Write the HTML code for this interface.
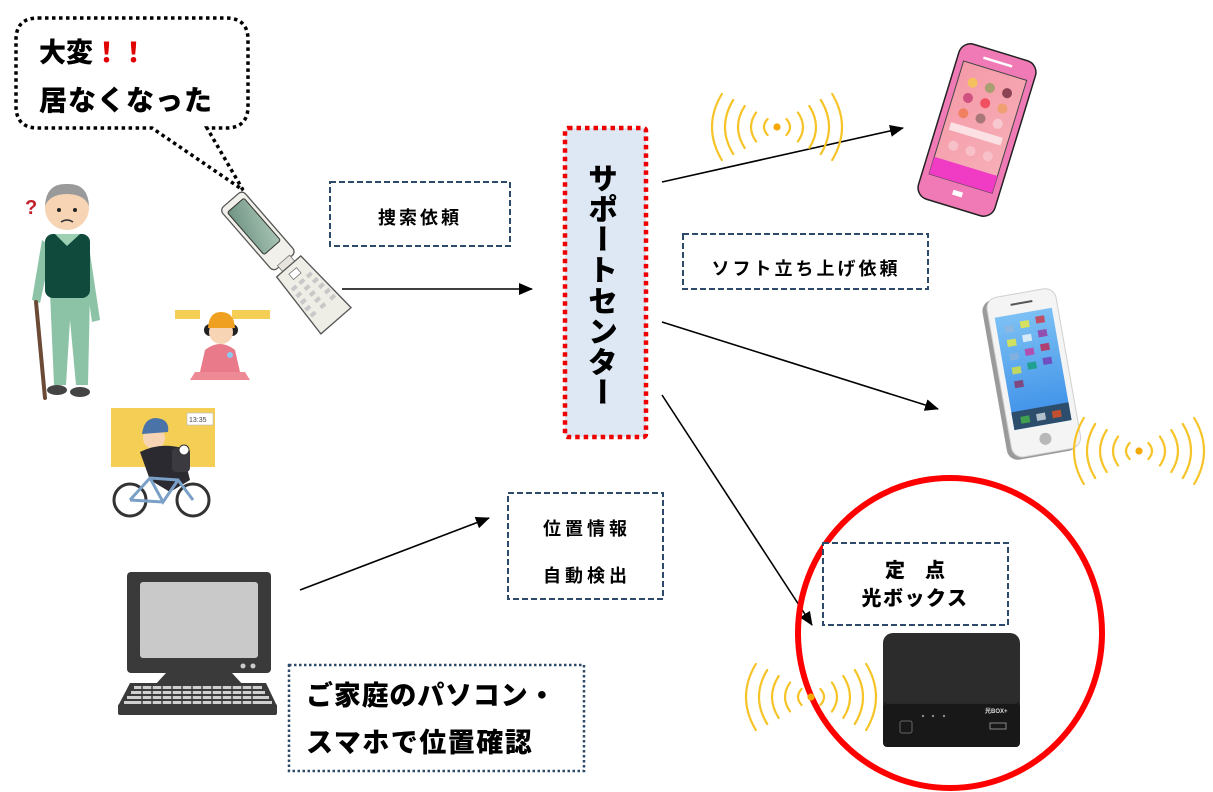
<!DOCTYPE html>
<html><head><meta charset="utf-8">
<style>
html,body{margin:0;padding:0;background:#fff;}
#wrap{position:relative;width:1213px;height:792px;overflow:hidden;background:#fff;}
svg{position:absolute;left:0;top:0;}
.jp{font-family:"Liberation Sans","Noto Sans CJK JP",sans-serif;}
#sc{position:absolute;left:587px;top:163px;writing-mode:vertical-rl;text-orientation:upright;font-family:"Noto Sans CJK JP",sans-serif;font-weight:900;font-size:30px;letter-spacing:0.6px;line-height:32px;color:#000;}
</style></head>
<body><div id="wrap">
<svg width="1213" height="792" viewBox="0 0 1213 792" xmlns="http://www.w3.org/2000/svg">
<defs>
<marker id="ah" markerWidth="14" markerHeight="12" refX="13" refY="6" orient="auto" markerUnits="userSpaceOnUse">
<path d="M0,0 L14,6 L0,12 Z" fill="#000"/>
</marker>
<linearGradient id="bl" x1="0" y1="0" x2="0" y2="1"><stop offset="0" stop-color="#7cc0f4"/><stop offset="1" stop-color="#3a8ee8"/></linearGradient>
<linearGradient id="pk" x1="0" y1="0" x2="1" y2="1"><stop offset="0" stop-color="#f59aa8"/><stop offset="1" stop-color="#f7b0b8"/></linearGradient>
<linearGradient id="gs" x1="0" y1="0" x2="1" y2="1"><stop offset="0" stop-color="#6f9484"/><stop offset="1" stop-color="#a8c4b4"/></linearGradient>
<g id="sig" fill="none" stroke="#f6c428" stroke-width="2.2" stroke-linecap="round">
<path d="M-9.4,-8 Q-16.6,0 -9.4,8 M9.4,-8 Q16.6,0 9.4,8"/>
<path d="M-20.9,-14.5 Q-31.1,0 -20.9,14.5 M20.9,-14.5 Q31.1,0 20.9,14.5"/>
<path d="M-32.3,-21 Q-45.7,0 -32.3,21 M32.3,-21 Q45.7,0 32.3,21"/>
<path d="M-43.8,-27 Q-60.2,0 -43.8,27 M43.8,-27 Q60.2,0 43.8,27"/>
<path d="M-55.2,-33 Q-74.8,0 -55.2,33 M55.2,-33 Q74.8,0 55.2,33"/>
<circle cx="0" cy="0" r="3.6" fill="#f5a800" stroke="none"/>
</g>
</defs>

<!-- speech bubble -->
<path d="M38,18 H226 Q248,18 248,40 V106 Q248,128 226,128 H207 L243,190 L152,128 H38 Q16,128 16,106 V40 Q16,18 38,18 Z" fill="#fff" stroke="#000" stroke-width="3.5" stroke-dasharray="3.5 3.5"/>
<text x="39" y="62" class="jp" font-size="27" font-weight="900" fill="#000">大変<tspan fill="#e00000">！！</tspan></text>
<text x="39" y="110" class="jp" font-size="28" font-weight="900" fill="#000" letter-spacing="1">居なくなった</text>

<!-- old man -->
<text x="25" y="214" font-family="Liberation Sans,sans-serif" font-weight="bold" font-size="20" fill="#c0202a">?</text>
<path d="M42,240 L32,300 L40,303 L52,248 Z" fill="#8cc3a6"/>
<path d="M88,240 L100,320 L92,322 L82,250 Z" fill="#8cc3a6"/>
<path d="M50,292 L90,292 L88,385 L76,385 L70,320 L66,385 L54,385 Z" fill="#8cc3a6"/>
<rect x="45" y="234" width="45" height="64" rx="8" fill="#0f4a3c"/>
<path d="M55,234 L80,234 L67,246 Z" fill="#9dd0b3"/>
<circle cx="67" cy="208" r="22" fill="#f6d4b4"/>
<path d="M45,206 Q46,183 67,184 Q88,183 89,206 Q84,194 67,194 Q50,194 45,206 Z" fill="#9a9a9a"/>
<circle cx="59" cy="210" r="2" fill="#222"/><circle cx="75" cy="210" r="2" fill="#222"/>
<path d="M61,222 Q67,218 73,222" stroke="#333" stroke-width="1.5" fill="none"/>
<ellipse cx="57" cy="390" rx="10" ry="5" fill="#444"/>
<ellipse cx="80" cy="392" rx="10" ry="5" fill="#444"/>
<line x1="36" y1="302" x2="45" y2="398" stroke="#6b4a36" stroke-width="4" stroke-linecap="round"/>

<!-- flip phone -->
<g transform="translate(231,200) rotate(-41)">
<rect x="-15" y="0" width="30" height="82" rx="5" fill="#f2f0ea" stroke="#555" stroke-width="1.3"/>
<rect x="-11" y="7" width="22" height="56" rx="2" fill="url(#gs)" stroke="#333" stroke-width="1"/>
<rect x="-8" y="80" width="16" height="10" fill="#e6e4dc" stroke="#777" stroke-width="0.8"/>
<path d="M-16,88 L16,88 L20,160 L-20,160 Z" fill="#eeede6" stroke="#555" stroke-width="1.3"/>
<rect x="-5" y="94" width="10" height="7" fill="#fff" stroke="#777" stroke-width="0.8"/>
<g fill="#c8c8c8">
<rect x="-13" y="106" width="6" height="4"/><rect x="-3" y="106" width="6" height="4"/><rect x="7" y="106" width="6" height="4"/>
<rect x="-14" y="114" width="6" height="4"/><rect x="-3" y="114" width="6" height="4"/><rect x="8" y="114" width="6" height="4"/>
<rect x="-15" y="122" width="6" height="4"/><rect x="-3" y="122" width="6" height="4"/><rect x="9" y="122" width="6" height="4"/>
<rect x="-16" y="130" width="6" height="4"/><rect x="-3" y="130" width="6" height="4"/><rect x="10" y="130" width="6" height="4"/>
<rect x="-16" y="138" width="6" height="4"/><rect x="-3" y="138" width="6" height="4"/><rect x="10" y="138" width="6" height="4"/>
</g>
</g>

<!-- girl -->
<rect x="175" y="310" width="25" height="9" fill="#f5cf55"/>
<rect x="232" y="310" width="38" height="9" fill="#f5cf55"/>
<path d="M205,350 Q220,338 235,350 L240,372 L200,372 Z" fill="#e87a8a"/>
<path d="M195,372 L245,372 L250,380 L190,380 Z" fill="#ee8a96"/>
<circle cx="210" cy="330" r="6" fill="#222"/><circle cx="232" cy="330" r="6" fill="#222"/>
<circle cx="221" cy="332" r="12" fill="#f6d4b4"/>
<path d="M208,328 Q209,312 221,312 Q234,312 235,328 Z" fill="#f0a020"/>
<circle cx="230" cy="355" r="3" fill="#8ac8f0"/>

<!-- bike boy -->
<rect x="111" y="408" width="104" height="59" fill="#f5cf55"/>
<rect x="187" y="413" width="26" height="12" fill="#fff" stroke="#bbb" stroke-width="0.6"/>
<text x="189" y="422" font-family="Liberation Sans,sans-serif" font-size="7" fill="#444">13:35</text>
<circle cx="154" cy="438" r="11" fill="#f6d4b4"/>
<path d="M142,434 Q144,418 156,418 Q170,419 168,432 Z" fill="#4a74a8"/>
<path d="M140,452 Q160,442 182,448 L190,480 L170,492 L150,480 Z" fill="#2a2a30"/>
<rect x="172" y="448" width="18" height="24" rx="4" fill="#3a3a40"/>
<circle cx="184" cy="450" r="5" fill="#fff" stroke="#333" stroke-width="1"/>
<circle cx="130" cy="500" r="16" fill="none" stroke="#333" stroke-width="3"/>
<circle cx="193" cy="500" r="16" fill="none" stroke="#333" stroke-width="3"/>
<path d="M130,500 L150,478 L178,480 L193,500 M150,478 L163,502 L178,480 M163,502 L130,500" fill="none" stroke="#7aa0c8" stroke-width="3"/>

<!-- arrows -->
<g stroke="#000" stroke-width="1.6" fill="none" marker-end="url(#ah)">
<line x1="342" y1="289" x2="532" y2="289"/>
<line x1="662" y1="182" x2="903" y2="128"/>
<line x1="662" y1="322" x2="938" y2="409"/>
<line x1="662" y1="395" x2="812" y2="625"/>
<line x1="300" y1="590" x2="489" y2="518"/>
</g>

<!-- labels -->
<rect x="330" y="182" width="180" height="64" fill="#fff" stroke="#2e4a6b" stroke-width="2" stroke-dasharray="6 3"/>
<text x="420" y="224" text-anchor="middle" class="jp" font-size="18" font-weight="bold" letter-spacing="3">捜索依頼</text>

<rect x="683" y="234" width="245" height="55" fill="#fff" stroke="#2e4a6b" stroke-width="2" stroke-dasharray="6 3"/>
<text x="806" y="275" text-anchor="middle" class="jp" font-size="18" font-weight="bold" letter-spacing="3">ソフト立ち上げ依頼</text>

<rect x="508" y="493" width="155" height="106" fill="#fff" stroke="#2e4a6b" stroke-width="2" stroke-dasharray="6 3"/>
<text x="587" y="535" text-anchor="middle" class="jp" font-size="18" font-weight="bold" letter-spacing="4">位置情報</text>
<text x="587" y="582" text-anchor="middle" class="jp" font-size="18" font-weight="bold" letter-spacing="4">自動検出</text>

<!-- support center box -->
<rect x="565" y="128" width="81" height="309" rx="3" fill="#dde8f4" stroke="#ee0000" stroke-width="4.5" stroke-dasharray="4.5 4"/>

<!-- pink phone -->
<g transform="translate(977,130) rotate(17)">
<rect x="-40" y="-81" width="80" height="162" rx="12" fill="#f07ab5" stroke="#222" stroke-width="1.5"/>
<line x1="-15" y1="-71" x2="15" y2="-71" stroke="#fff" stroke-width="2.5"/>
<rect x="-33" y="-62" width="66" height="118" fill="url(#pk)" stroke="#444" stroke-width="1"/>
<rect x="-33" y="38" width="66" height="18" fill="#f03cc4"/>
<circle cx="-18" cy="-44" r="5" fill="#f5c060"/><circle cx="0" cy="-44" r="5" fill="#a8a070"/><circle cx="18" cy="-44" r="5" fill="#8a4454"/>
<circle cx="-18" cy="-28" r="5" fill="#d05080"/><circle cx="0" cy="-28" r="5" fill="#f05060"/><circle cx="18" cy="-28" r="5" fill="#f0a070"/>
<circle cx="-18" cy="-12" r="5" fill="#f08060"/><circle cx="0" cy="-12" r="5" fill="#a87878"/><circle cx="18" cy="-12" r="5" fill="#f8c8d0"/>
<rect x="-27" y="0" width="54" height="8" fill="#fbe0e4"/>
<circle cx="-18" cy="22" r="5" fill="#f8c0c8"/><circle cx="0" cy="22" r="5" fill="#f8c0c8"/><circle cx="18" cy="22" r="5" fill="#f8c0c8"/>
<rect x="-5" y="64" width="10" height="5" fill="#fff"/>
</g>
<use href="#sig" transform="translate(777,127)"/>

<!-- blue phone -->
<g transform="translate(1033,374) rotate(-10)">
<rect x="-39" y="-80" width="72" height="162" rx="11" fill="#9a9a9a"/>
<rect x="-34" y="-82" width="70" height="162" rx="11" fill="#f4f4f4" stroke="#d0d0d0" stroke-width="1"/>
<line x1="-10" y1="-72" x2="12" y2="-72" stroke="#555" stroke-width="2"/>
<rect x="-28" y="-62" width="58" height="114" fill="url(#bl)"/>
<rect x="-28" y="34" width="58" height="18" fill="#2c4d6b"/>
<g>
<rect x="-20" y="-52" width="9" height="7" fill="#8ab8e0"/><rect x="-4" y="-54" width="9" height="7" fill="#d8e060"/><rect x="12" y="-56" width="9" height="7" fill="#c05068"/>
<rect x="-20" y="-38" width="9" height="7" fill="#d0e060"/><rect x="-4" y="-40" width="9" height="7" fill="#d8eaf8"/><rect x="12" y="-42" width="9" height="7" fill="#9050b0"/>
<rect x="-20" y="-24" width="9" height="7" fill="#80b0e0"/><rect x="-4" y="-26" width="9" height="7" fill="#b050b0"/><rect x="12" y="-28" width="9" height="7" fill="#b04070"/>
<rect x="-20" y="-10" width="9" height="7" fill="#c0d860"/><rect x="-4" y="-12" width="9" height="7" fill="#20a090"/><rect x="12" y="-14" width="9" height="7" fill="#7050c0"/>
<rect x="-20" y="4" width="9" height="7" fill="#804880"/>
<rect x="-20" y="40" width="9" height="7" fill="#40a050"/><rect x="-4" y="40" width="9" height="7" fill="#b0c0cc"/><rect x="12" y="40" width="9" height="7" fill="#c05030"/>
</g>
<circle cx="1" cy="66" r="6" fill="#b8b8b8"/>
</g>
<use href="#sig" transform="translate(1139,451)"/>

<!-- red circle -->
<ellipse cx="950" cy="633" rx="152" ry="155" fill="none" stroke="#ff0000" stroke-width="6"/>

<!-- device -->
<rect x="883" y="633" width="137" height="80" rx="10" fill="#2c2c2c"/>
<rect x="883" y="702" width="137" height="45" rx="4" fill="#181818"/>
<line x1="886" y1="703" x2="1017" y2="703" stroke="#3a3a3a" stroke-width="1"/>
<rect x="900" y="721" width="12" height="12" rx="2" fill="none" stroke="#666" stroke-width="1"/>
<rect x="990" y="723" width="16" height="6" fill="none" stroke="#888" stroke-width="1"/>
<text x="985" y="713" font-family="Liberation Sans,sans-serif" font-size="6" font-weight="bold" fill="#ddd">光BOX+</text>
<circle cx="923" cy="716" r="1.2" fill="#888"/><circle cx="933" cy="716" r="1.2" fill="#888"/><circle cx="944" cy="716" r="1.2" fill="#888"/>
<use href="#sig" transform="translate(811,697)"/>

<rect x="823" y="543" width="185" height="82" fill="#fff" stroke="#2e4a6b" stroke-width="2" stroke-dasharray="6 3"/>
<text x="915" y="577" text-anchor="middle" class="jp" font-size="20" font-weight="900" xml:space="preserve">定　点</text>
<text x="915" y="605" text-anchor="middle" class="jp" font-size="20" font-weight="900" letter-spacing="1.5">光ボックス</text>

<!-- computer -->
<rect x="127" y="572" width="144" height="101" rx="4" fill="#3a3a3a"/>
<rect x="140" y="582" width="118" height="76" rx="3" fill="#c9c9c9"/>
<circle cx="243" cy="666" r="2.5" fill="#ccc"/><circle cx="253" cy="666" r="2.5" fill="#ccc"/>
<path d="M166,673 L232,673 L244,686 L154,686 Z" fill="#3a3a3a"/>
<path d="M130,683 L266,683 L277,706 L118,706 Z" fill="#3a3a3a"/>
<rect x="118" y="704" width="159" height="11" rx="2" fill="#3a3a3a"/>
<g fill="#cfcfcf">
<rect x="134" y="686" width="128" height="3"/>
<rect x="131" y="691" width="134" height="3"/>
<rect x="127" y="696" width="142" height="3"/>
<rect x="124" y="701" width="148" height="3"/>
</g>
<g stroke="#3a3a3a" stroke-width="1.4">
<path d="M142,685 V705 M152,685 V705 M162,685 V705 M172,685 V705 M182,685 V705 M192,685 V705 M202,685 V705 M212,685 V705 M222,685 V705 M232,685 V705 M242,685 V705 M252,685 V705"/>
</g>

<!-- bottom label -->
<rect x="289" y="665" width="295" height="106" fill="#fff" stroke="#2e4a6b" stroke-width="2.5" stroke-dasharray="2.5 2.5"/>
<text x="306" y="705" class="jp" font-size="27" font-weight="900" letter-spacing="0.8">ご家庭のパソコン・</text>
<text x="306" y="752" class="jp" font-size="27" font-weight="900" letter-spacing="1.5">スマホで位置確認</text>
</svg>
<div id="sc">サポートセンター</div>
</div></body></html>
